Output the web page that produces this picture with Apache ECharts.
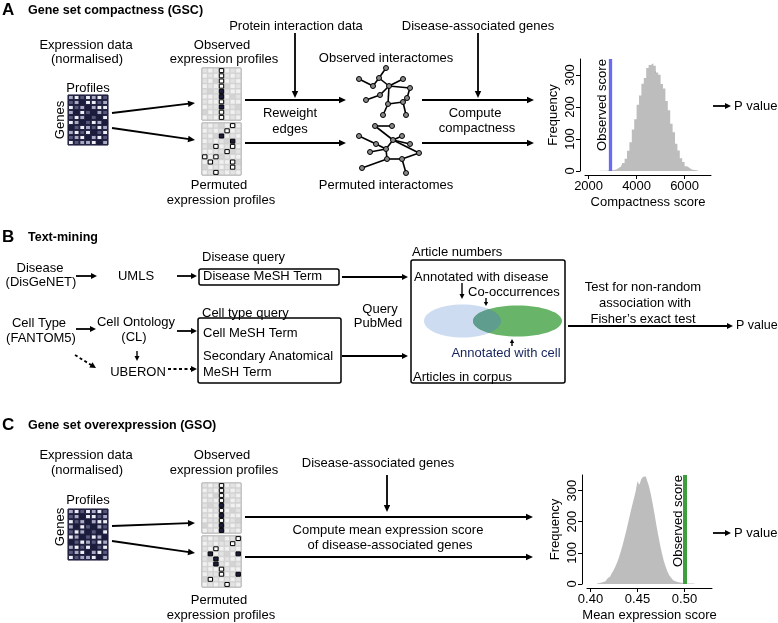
<!DOCTYPE html>
<html>
<head>
<meta charset="utf-8">
<script src="https://cdn.jsdelivr.net/npm/echarts@6/dist/echarts.min.js"></script>
<style>
  html, body { margin: 0; padding: 0; background: #fff; }
  #chart { width: 778px; height: 623px; }
</style>
</head>
<body>
<div id="chart"></div>
<script>
// ---- data ----
// GSC permutation histogram (bin centres / counts)
const histAX = [2450, 2550, 2650, 2750, 2850, 2950, 3050, 3150, 3250, 3350, 3450, 3550, 3650, 3750, 3850,
  3950, 4050, 4150, 4250, 4350, 4450, 4550, 4650, 4750, 4850, 4950, 5050, 5150, 5250, 5350,
  5450, 5550, 5650, 5750, 5850, 5950, 6050, 6150, 6250, 6350, 6450, 6550, 6650];
const histAY = [1, 1, 1, 1, 2, 2, 3, 5, 9, 14, 25, 38, 63, 90, 130,
  162, 207, 236, 273, 291, 322, 331, 337, 329, 308, 301, 272, 258, 219, 190,
  148, 121, 85, 64, 40, 28, 15, 10, 5, 3, 2, 1, 1];
const observedA = 2890;
const ticksAX = [2000, 4000, 6000];

// GSO permutation histogram
const histCX = [0.407, 0.409, 0.411, 0.413, 0.415, 0.417, 0.419, 0.421, 0.423, 0.425,
  0.427, 0.429, 0.431, 0.433, 0.435, 0.437, 0.439, 0.441, 0.443, 0.445,
  0.447, 0.449, 0.451, 0.453, 0.455, 0.457, 0.459, 0.461, 0.463, 0.465,
  0.467, 0.469, 0.471, 0.473, 0.475, 0.477, 0.479, 0.481, 0.483, 0.485,
  0.487, 0.489, 0.491, 0.493, 0.495, 0.497, 0.499, 0.501, 0.503, 0.505,
  0.507, 0.509, 0.511, 0.513];
const histCY = [2, 3, 5, 6, 9, 13, 18, 24, 31, 41,
  53, 67, 83, 102, 123, 146, 170, 196, 222, 248,
  272, 296, 330, 318, 336, 344, 345, 334, 316, 291,
  261, 227, 191, 158, 127, 99, 75, 55, 39, 27,
  19, 12, 8, 6, 5, 4, 3, 3, 2, 2,
  2, 2, 1, 1];
const observedC = 0.503;
const ticksCX = [0.40, 0.45, 0.50];
const ticksY = [0, 100, 200, 300];

// expression matrix (0 dark .. 3 white), 10 genes x 7 profiles
const exprLevels = [
  [2, 3, 1, 3, 2, 3, 1],
  [1, 2, 0, 3, 3, 1, 2],
  [3, 1, 2, 0, 2, 3, 3],
  [2, 0, 3, 1, 0, 2, 1],
  [1, 3, 2, 0, 1, 0, 3],
  [3, 2, 0, 1, 3, 2, 0],
  [0, 1, 3, 2, 1, 3, 2],
  [2, 3, 1, 3, 0, 1, 3],
  [1, 2, 3, 0, 2, 3, 1],
  [3, 1, 2, 2, 3, 0, 2]
];
// light background shading of the profile boxes
const boxShade = [
  [1, 2, 1, 0, 2, 1, 2],
  [2, 1, 2, 1, 1, 2, 1],
  [1, 2, 0, 2, 2, 1, 2],
  [2, 1, 2, 1, 0, 2, 1],
  [1, 0, 1, 2, 1, 2, 2],
  [2, 2, 1, 1, 2, 0, 1],
  [1, 2, 2, 0, 1, 2, 2],
  [2, 1, 1, 2, 2, 1, 0],
  [0, 2, 1, 2, 1, 2, 1],
  [2, 1, 2, 1, 2, 1, 2]
];
const obsColumn = 3;
const obsDarkA = [4, 5, 7];
const obsDarkC = [4, 6, 8, 9];
// permuted cells [col, row, filled]
const permA = [[5, 0, 0], [4, 1, 0], [3, 2, 1], [5, 3, 1], [2, 4, 0], [5, 4, 0], [4, 5, 0],
  [2, 6, 0], [0, 6, 0], [1, 7, 0], [5, 7, 0], [5, 8, 0], [2, 9, 0]];
const permC = [[6, 0, 0], [5, 1, 0], [2, 2, 0], [1, 3, 1], [6, 3, 1], [2, 4, 1], [2, 5, 1],
  [3, 6, 0], [3, 7, 0], [6, 7, 1], [1, 8, 0], [4, 9, 0]];

// interactome sketches (node positions, edges)
const netObsNodes = [[36, 6], [9, 17], [23, 24], [29, 16], [53, 17], [39, 24], [60, 26],
  [30, 33], [16, 38], [57, 36], [38, 42], [53, 40], [33, 53], [56, 53]];
const netObsEdges = [[1, 2], [2, 3], [3, 0], [3, 5], [5, 4], [5, 6], [6, 9], [9, 11], [11, 10],
  [10, 5], [5, 7], [7, 8], [10, 12], [11, 13]];
const netPermNodes = [[25, 6], [42, 6], [9, 16], [26, 24], [52, 16], [43, 20], [60, 24],
  [36, 29], [20, 32], [69, 33], [37, 39], [52, 39], [12, 48], [56, 53]];
const netPermEdges = [[0, 1], [0, 5], [2, 3], [3, 7], [5, 4], [5, 6], [5, 9], [9, 11], [11, 13],
  [11, 10], [10, 7], [7, 8], [7, 5], [10, 12]];

// ---- drawing ----
const F = '"Liberation Sans", Arial, Helvetica, sans-serif';
const NAVY = '#1c1c3c';
const EXPR_COLORS = [NAVY, '#57577c', '#a9a9c4', '#eeeef6'];
const BOX_COLORS = ['#d4d4d4', '#e3e3e3', '#f1f1f1'];

const G = [];
function txt(x, y, s, o) {
  o = o || {};
  G.push({
    type: 'text', x: x, y: y, rotation: o.rot || 0, silent: true,
    style: {
      text: s, fill: o.color || '#000',
      font: (o.bold ? 'bold ' : '') + (o.size || 13) + 'px ' + F,
      align: o.align || 'center', verticalAlign: 'middle',
      textAlign: o.align || 'center', textVerticalAlign: 'middle'
    }
  });
}
function arrow(x1, y1, x2, y2, o) {
  o = o || {};
  const w = o.w || 1.8, hl = o.hl || 7, hw = o.hw || 3.2;
  const a = Math.atan2(y2 - y1, x2 - x1);
  const bx = x2 - hl * Math.cos(a), by = y2 - hl * Math.sin(a);
  G.push({
    type: 'line', silent: true,
    shape: { x1: x1, y1: y1, x2: bx + 1 * Math.cos(a), y2: by + 1 * Math.sin(a) },
    style: { stroke: '#000', lineWidth: w, lineDash: o.dash ? [3, 2.5] : null }
  });
  G.push({
    type: 'polygon', silent: true,
    shape: { points: [[x2, y2], [bx - hw * Math.sin(a), by + hw * Math.cos(a)], [bx + hw * Math.sin(a), by - hw * Math.cos(a)]] },
    style: { fill: '#000' }
  });
}
function box(x, y, w, h) {
  G.push({ type: 'rect', silent: true, shape: { x: x, y: y, width: w, height: h, r: 2 },
    style: { fill: 'none', stroke: '#000', lineWidth: 1.5 } });
}

// Panel A
txt(2, 10, 'A', { bold: true, size: 17, align: 'left' });
txt(28, 11, 'Gene set compactness (GSC)', { bold: true, size: 12.5, align: 'left' });
txt(296, 26, 'Protein interaction data');
txt(478, 26, 'Disease-associated genes');
txt(86, 45, 'Expression data');
txt(87, 59.5, '(normalised)');
txt(222, 45, 'Observed');
txt(224, 59.5, 'expression profiles');
txt(386, 58, 'Observed interactomes');
txt(88, 88, 'Profiles');
txt(60, 120, 'Genes', { rot: Math.PI / 2 });
txt(290, 113, 'Reweight');
txt(290, 129, 'edges');
txt(475, 113, 'Compute');
txt(477, 128, 'compactness');
txt(219, 185, 'Permuted');
txt(221, 200.5, 'expression profiles');
txt(386, 185, 'Permuted interactomes');
txt(602, 105, 'Observed score', { rot: Math.PI / 2 });
txt(652.5, 119.5, 'Permuted scores', { rot: Math.PI / 2 });
txt(734, 106, 'P value', { align: 'left' });
arrow(112, 113, 195, 103);
arrow(112, 128, 195, 140);
arrow(295, 33, 295, 98);
arrow(245, 100, 346, 100);
arrow(245, 143, 346, 143);
arrow(478, 33, 478, 98);
arrow(422, 100, 534, 100);
arrow(422, 143, 534, 143);
arrow(713, 106, 731, 106, { hl: 6, hw: 3 });

// Panel B
txt(2, 237, 'B', { bold: true, size: 17, align: 'left' });
txt(28, 238, 'Text-mining', { bold: true, size: 12.5, align: 'left' });
txt(40, 268, 'Disease');
txt(41, 282.5, '(DisGeNET)');
txt(136, 276, 'UMLS');
txt(202, 257, 'Disease query', { align: 'left' });
txt(203, 276.5, 'Disease MeSH Term', { align: 'left' });
txt(412, 252, 'Article numbers', { align: 'left' });
txt(39, 323, 'Cell Type');
txt(41, 338, '(FANTOM5)');
txt(136, 322, 'Cell Ontology');
txt(134, 337, '(CL)');
txt(138, 372, 'UBERON');
txt(202, 313, 'Cell type query', { align: 'left' });
txt(203, 333, 'Cell MeSH Term', { align: 'left' });
txt(203, 356, 'Secondary Anatomical', { align: 'left' });
txt(203, 372, 'MeSH Term', { align: 'left' });
txt(380, 309, 'Query');
txt(378, 323, 'PubMed');
txt(643, 287.5, 'Test for non-random');
txt(645, 303.5, 'association with');
txt(643, 319.5, 'Fisher\u2019s exact test');
txt(736, 326, 'P value', { align: 'left', size: 12.5 });
box(199, 269, 140, 16);
box(198, 318, 143, 65);
box(411, 260, 154, 123);

const blueE = [462.5, 321, 38.5, 16.5];
const greenE = [517.5, 321, 44.5, 15.5];
function inside(p, c) { return Math.pow((p[0] - c[0]) / c[2], 2) + Math.pow((p[1] - c[1]) / c[3], 2) <= 1; }
function lens(c1, c2) {
  const pts = [];
  for (let i = 0; i <= 240; i++) {
    const t = -Math.PI / 2 + Math.PI * i / 240;
    const p = [c1[0] + c1[2] * Math.cos(t), c1[1] + c1[3] * Math.sin(t)];
    if (inside(p, c2)) pts.push(p);
  }
  for (let i = 0; i <= 240; i++) {
    const t = Math.PI / 2 + Math.PI * i / 240;
    const p = [c2[0] + c2[2] * Math.cos(t), c2[1] + c2[3] * Math.sin(t)];
    if (inside(p, c1)) pts.push(p);
  }
  return pts;
}
G.push({ type: 'ellipse', silent: true, shape: { cx: blueE[0], cy: blueE[1], rx: blueE[2], ry: blueE[3] }, style: { fill: '#cddcf1' } });
G.push({ type: 'ellipse', silent: true, shape: { cx: greenE[0], cy: greenE[1], rx: greenE[2], ry: greenE[3] }, style: { fill: '#68b468' } });
G.push({ type: 'polygon', silent: true, shape: { points: lens(blueE, greenE) }, style: { fill: '#5f9d8f' } });
txt(414, 277, 'Annotated with disease', { align: 'left' });
txt(468, 292, 'Co-occurrences', { align: 'left' });
txt(506, 353, 'Annotated with cell', { color: '#15245c' });
txt(413, 377, 'Articles in corpus', { align: 'left' });

arrow(76, 276, 97, 276, { hl: 6, hw: 3 });
arrow(177, 276, 197, 276, { hl: 6, hw: 3 });
arrow(342, 277, 408, 277, { hl: 6, hw: 3 });
arrow(462, 283, 462, 299, { w: 1.4, hl: 5, hw: 2.5 });
arrow(486, 298, 486, 306, { w: 1.4, hl: 4, hw: 2.2 });
arrow(512, 346, 512, 339, { w: 1.4, hl: 4, hw: 2.2 });
arrow(568, 326, 733, 326, { hl: 6, hw: 3 });
arrow(76, 329, 96, 329, { hl: 6, hw: 3 });
arrow(137, 351, 137, 361, { w: 1.4, hl: 5, hw: 2.5 });
arrow(75, 355, 96, 368, { dash: true, hl: 6, hw: 3 });
arrow(177, 331, 197, 331, { hl: 6, hw: 3 });
arrow(168, 369, 197, 369, { dash: true, hl: 6, hw: 3 });
arrow(342, 356, 408, 356, { hl: 6, hw: 3 });

// Panel C
txt(2, 425, 'C', { bold: true, size: 17, align: 'left' });
txt(28, 425.5, 'Gene set overexpression (GSO)', { bold: true, size: 12.5, align: 'left' });
txt(86, 455, 'Expression data');
txt(87, 470, '(normalised)');
txt(222, 455, 'Observed');
txt(224, 470, 'expression profiles');
txt(88, 500.5, 'Profiles');
txt(60, 527, 'Genes', { rot: Math.PI / 2 });
txt(378, 463, 'Disease-associated genes');
txt(388, 530, 'Compute mean expression score');
txt(390, 545, 'of disease-associated genes');
txt(219, 600, 'Permuted');
txt(221, 615, 'expression profiles');
txt(641.5, 533.5, 'Permuted scores', { rot: Math.PI / 2 });
txt(678.5, 521, 'Observed score', { rot: Math.PI / 2 });
txt(734, 533, 'P value', { align: 'left' });
arrow(112, 526, 195, 523);
arrow(112, 541, 195, 553);
arrow(387, 475, 387, 512);
arrow(245, 517, 533, 517);
arrow(245, 557, 533, 557);
arrow(713, 533, 731, 533, { hl: 6, hw: 3 });

// ---- grids / axes ----
const grids = [];
const xAxes = [];
const yAxes = [];
const series = [];
const axisText = { color: '#000', fontSize: 13, fontFamily: F };

function histAxes(gi, xmin, xmax, xticks, xname, fmt) {
  xAxes.push({
    gridIndex: gi, type: 'value', min: xmin, max: xmax, offset: 4,
    axisLine: { show: true, onZero: false, lineStyle: { color: '#000', width: 1 } },
    axisTick: { show: true, length: 4, customValues: xticks, lineStyle: { color: '#000' } },
    axisLabel: Object.assign({ customValues: xticks, margin: 5, formatter: fmt }, axisText),
    splitLine: { show: false },
    name: xname, nameLocation: 'middle', nameGap: 21, nameTextStyle: axisText
  });
  yAxes.push({
    gridIndex: gi, type: 'value', min: 0, max: 350, offset: 5,
    axisLine: { show: true, onZero: false, lineStyle: { color: '#000', width: 1 } },
    axisTick: { show: true, length: 4, customValues: ticksY, lineStyle: { color: '#000' } },
    axisLabel: Object.assign({ customValues: ticksY, rotate: 90, margin: 3 }, axisText),
    splitLine: { show: false },
    name: 'Frequency', nameLocation: 'middle', nameGap: 20, nameRotate: 90, nameTextStyle: axisText
  });
}
function hiddenAxes(gi, xmax, ymax) {
  xAxes.push({ gridIndex: gi, type: 'value', min: 0, max: xmax, show: false });
  yAxes.push({ gridIndex: gi, type: 'value', min: 0, max: ymax, inverse: true, show: false });
}
function cellRenderer(fillFn, strokeFn, lw, inset) {
  return function (params, api) {
    const c = api.value(0), r = api.value(1), v = api.value(2);
    const a = api.coord([c, r]), b = api.coord([c + 1, r + 1]);
    return {
      type: 'rect',
      shape: { x: a[0] + inset, y: a[1] + inset, width: b[0] - a[0] - 2 * inset, height: b[1] - a[1] - 2 * inset },
      style: { fill: fillFn(v), stroke: strokeFn(v), lineWidth: lw }
    };
  };
}
function gridCells(levels) {
  const out = [];
  levels.forEach(function (row, r) { row.forEach(function (v, c) { out.push([c, r, v]); }); });
  return out;
}

// 0: GSC histogram, 1: GSO histogram
grids.push({ left: 585, top: 59, width: 126, height: 112 });
histAxes(0, 1850, 7100, ticksAX, 'Compactness score', function (v) { return String(v); });
grids.push({ left: 587, top: 475, width: 125, height: 112 });
histAxes(1, 0.3963, 0.5293, ticksCX, 'Mean expression score', function (v) { return v.toFixed(2); });

series.push({
  type: 'line', xAxisIndex: 0, yAxisIndex: 0, step: 'middle', symbol: 'none', silent: true,
  data: histAX.map(function (x, i) { return [x, histAY[i]]; }),
  lineStyle: { width: 0, opacity: 0 }, areaStyle: { color: '#bdbdbd', opacity: 1 },
  markLine: { silent: true, symbol: ['none', 'none'], label: { show: false },
    lineStyle: { color: '#6b6bef', width: 3.3, type: 'solid' }, data: [{ xAxis: observedA }] }
});
series.push({
  type: 'line', xAxisIndex: 1, yAxisIndex: 1, step: 'middle', symbol: 'none', silent: true,
  data: histCX.map(function (x, i) { return [x, histCY[i]]; }),
  lineStyle: { width: 0, opacity: 0 }, areaStyle: { color: '#bdbdbd', opacity: 1 },
  markLine: { silent: true, symbol: ['none', 'none'], label: { show: false },
    lineStyle: { color: '#3f9f3f', width: 4, type: 'solid' }, data: [{ xAxis: observedC }] }
});

// matrices
const matrixGrids = [
  { kind: 'expr', left: 68, top: 95, width: 40, height: 50 },
  { kind: 'expr', left: 68, top: 509, width: 40, height: 51 },
  { kind: 'obs', left: 202, top: 68, width: 39, height: 52, dark: obsDarkA },
  { kind: 'perm', left: 202, top: 123, width: 39, height: 52, cells: permA },
  { kind: 'obs', left: 202, top: 483, width: 39, height: 50, dark: obsDarkC },
  { kind: 'perm', left: 202, top: 536, width: 39, height: 51, cells: permC }
];
matrixGrids.forEach(function (m) {
  const gi = grids.length;
  const isExpr = m.kind === 'expr';
  grids.push({ left: m.left, top: m.top, width: m.width, height: m.height, show: true,
    backgroundColor: isExpr ? NAVY : '#d8d8d8', borderColor: isExpr ? NAVY : '#8c8c8c', borderWidth: 1 });
  hiddenAxes(gi, 7, 10);
  if (isExpr) {
    series.push({ type: 'custom', xAxisIndex: gi, yAxisIndex: gi, silent: true, data: gridCells(exprLevels),
      renderItem: cellRenderer(function (v) { return EXPR_COLORS[v]; }, function () { return NAVY; }, 1, 0.4) });
    return;
  }
  series.push({ type: 'custom', xAxisIndex: gi, yAxisIndex: gi, silent: true, data: gridCells(boxShade),
    renderItem: cellRenderer(function (v) { return BOX_COLORS[v]; }, function () { return '#cfcfcf'; }, 0.6, 0.3) });
  let marked;
  if (m.kind === 'obs') {
    marked = boxShade.map(function (row, r) { return [obsColumn, r, m.dark.indexOf(r) >= 0 ? 1 : 0]; });
  } else {
    marked = m.cells;
  }
  series.push({ type: 'custom', xAxisIndex: gi, yAxisIndex: gi, silent: true, data: marked,
    renderItem: cellRenderer(function (v) { return v ? NAVY : '#fff'; }, function () { return '#000'; }, 1, 0.6) });
});

// interactomes
[[netObsNodes, netObsEdges, 62], [netPermNodes, netPermEdges, 120]].forEach(function (n) {
  const gi = grids.length;
  grids.push({ left: 350, top: n[2], width: 80, height: 58 });
  hiddenAxes(gi, 80, 58);
  series.push({
    type: 'graph', layout: 'none', coordinateSystem: 'cartesian2d', xAxisIndex: gi, yAxisIndex: gi, silent: true,
    symbol: 'circle', symbolSize: 5,
    itemStyle: { color: '#8a8a8a', borderColor: '#000', borderWidth: 1 },
    lineStyle: { color: '#000', width: 1.6, opacity: 1, curveness: 0 },
    data: n[0].map(function (p) { return { value: p }; }),
    links: n[1].map(function (e) { return { source: e[0], target: e[1] }; })
  });
});

const chart = echarts.init(document.getElementById('chart'));
chart.setOption({
  backgroundColor: '#fff',
  animation: false,
  grid: grids,
  xAxis: xAxes,
  yAxis: yAxes,
  series: series,
  graphic: { elements: G }
});
window.addEventListener('resize', function () { chart.resize(); });
</script>
</body>
</html>
